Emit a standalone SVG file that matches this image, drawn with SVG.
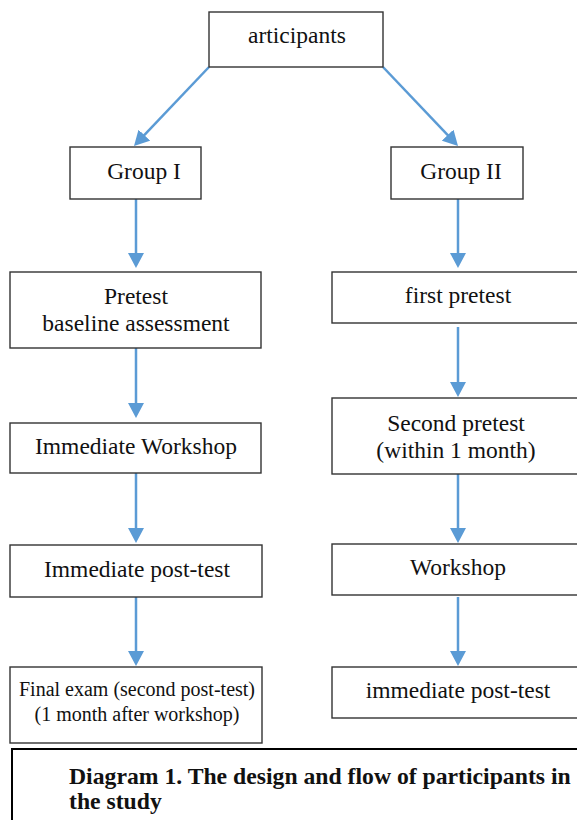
<svg xmlns="http://www.w3.org/2000/svg" width="577" height="820" viewBox="0 0 577 820">
<style>
.box{fill:#fff;stroke:#333;stroke-width:1.4}
.a{stroke:#5B9BD5;stroke-width:2.5;fill:none;marker-end:url(#ah)}
</style>
<defs>
<marker id="ah" markerUnits="userSpaceOnUse" markerWidth="15" markerHeight="16" viewBox="0 0 15 16" refX="7" refY="8" orient="auto">
<path d="M0,0 L15,8 L0,16 z" fill="#5B9BD5"/>
</marker>
</defs>
<rect width="577" height="820" fill="#fff"/>
<g id="connectors">
<line class="a" x1="209" y1="67" x2="139.5" y2="140.2"/>
<line class="a" x1="383" y1="67" x2="452.5" y2="140.2"/>
<line class="a" x1="136" y1="199" x2="136" y2="260"/>
<line class="a" x1="136" y1="348" x2="136" y2="410"/>
<line class="a" x1="136" y1="473" x2="136" y2="535"/>
<line class="a" x1="136" y1="597" x2="136" y2="658"/>
<line class="a" x1="458" y1="199" x2="458" y2="260"/>
<line class="a" x1="458" y1="327" x2="458" y2="389"/>
<line class="a" x1="458" y1="474" x2="458" y2="535"/>
<line class="a" x1="458" y1="597" x2="458" y2="658"/>
</g>
<g font-family="Liberation Serif, serif" font-size="23.5" fill="#111" text-anchor="middle">
<g id="participants"><rect class="box" x="209" y="12" width="174" height="55"/><text x="297" y="43">articipants</text></g>
<g id="group1"><rect class="box" x="70" y="147" width="131" height="52"/><text x="144" y="179">Group I</text></g>
<g id="group2"><rect class="box" x="391" y="147" width="132" height="52"/><text x="461" y="179">Group II</text></g>
<g id="pretest"><rect class="box" x="10" y="272" width="251" height="76"/><text x="136" y="304">Pretest</text><text x="136" y="331">baseline assessment</text></g>
<g id="firstpretest"><rect class="box" x="332" y="272" width="252" height="51"/><text x="458" y="303">first pretest</text></g>
<g id="workshop1"><rect class="box" x="10" y="423" width="251" height="50"/><text x="136" y="454">Immediate Workshop</text></g>
<g id="secondpretest"><rect class="box" x="332" y="398" width="252" height="76"/><text x="456" y="431">Second pretest</text><text x="456" y="458">(within 1 month)</text></g>
<g id="posttest1"><rect class="box" x="10" y="545" width="252" height="52"/><text x="137" y="577">Immediate post-test</text></g>
<g id="workshop2"><rect class="box" x="332" y="544" width="252" height="51"/><text x="458" y="575">Workshop</text></g>
<g id="finalexam"><rect class="box" x="10" y="667" width="252" height="76"/><text x="137" y="696" font-size="20">Final exam (second post-test)</text><text x="137" y="721" font-size="20">(1 month after workshop)</text></g>
<g id="posttest2"><rect class="box" x="332" y="667" width="252" height="51"/><text x="458" y="698">immediate post-test</text></g>
<g id="caption"><rect x="12" y="749" width="580" height="90" fill="#fff" stroke="#000" stroke-width="2"/><text x="69" y="784" font-size="23.7" font-weight="bold" text-anchor="start">Diagram 1. The design and flow of participants in</text><text x="69" y="809" font-size="23.7" font-weight="bold" text-anchor="start">the study</text></g>
</g>
</svg>
